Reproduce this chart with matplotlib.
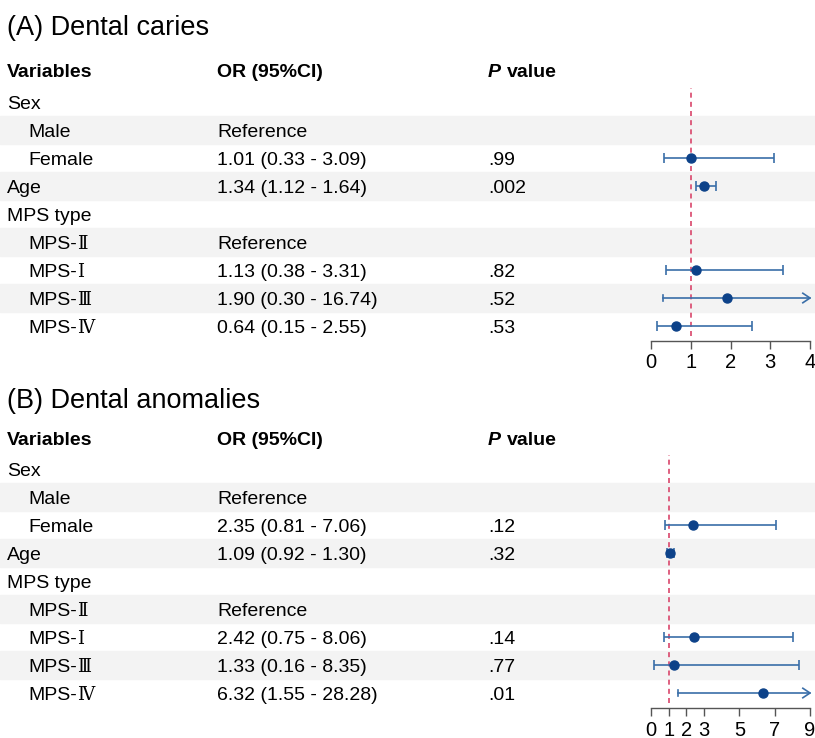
import matplotlib
matplotlib.use("Agg")
import matplotlib.pyplot as plt

plt.rcParams['font.family'] = ['Liberation Sans', 'DejaVu Sans', 'Noto Sans CJK SC']

# ---------------- data ----------------
row_labels = ["Sex", "Male", "Female", "Age", "MPS type", "MPS-Ⅱ", "MPS-Ⅰ", "MPS-Ⅲ", "MPS-Ⅳ"]
row_indent = [False, True, True, False, False, True, True, True, True]

a_title = "(A) Dental caries"
a_or_text = ["", "Reference", "1.01 (0.33 - 3.09)", "1.34 (1.12 - 1.64)", "", "Reference",
             "1.13 (0.38 - 3.31)", "1.90 (0.30 - 16.74)", "0.64 (0.15 - 2.55)"]
a_p_text = ["", "", ".99", ".002", "", "", ".82", ".52", ".53"]
a_or = [None, None, 1.01, 1.34, None, None, 1.13, 1.90, 0.64]
a_lo = [None, None, 0.33, 1.12, None, None, 0.38, 0.30, 0.15]
a_hi = [None, None, 3.09, 1.64, None, None, 3.31, 16.74, 2.55]
a_xmax = 4
a_ticks = [0, 1, 2, 3, 4]

b_title = "(B) Dental anomalies"
b_or_text = ["", "Reference", "2.35 (0.81 - 7.06)", "1.09 (0.92 - 1.30)", "", "Reference",
             "2.42 (0.75 - 8.06)", "1.33 (0.16 - 8.35)", "6.32 (1.55 - 28.28)"]
b_p_text = ["", "", ".12", ".32", "", "", ".14", ".77", ".01"]
b_or = [None, None, 2.35, 1.09, None, None, 2.42, 1.33, 6.32]
b_lo = [None, None, 0.81, 0.92, None, None, 0.75, 0.16, 1.55]
b_hi = [None, None, 7.06, 1.30, None, None, 8.06, 8.35, 28.28]
b_xmax = 9
b_ticks = [0, 1, 2, 3, 5, 7, 9]

shaded_rows = [1, 3, 5, 7]

# ---------------- layout ----------------
W, H = 815, 738
fig = plt.figure(figsize=(W / 100, H / 100), dpi=100)
bg = fig.add_axes([0, 0, 1, 1])
bg.set_xlim(0, W)
bg.set_ylim(H, 0)
bg.axis('off')

ROW_H = 28
FS = 14
LINE_C = '#3a6ea8'
DOT_C = '#0d4289'
REF_C = '#d9456b'
PX0, PX1 = 651, 810
BL = 7  # baseline offset from row centre (px)
COL_OR = 217
COL_P = 488
ROMAN_FAMILY = ['DejaVu Serif', 'Liberation Serif', 'DejaVu Sans']

renderer = fig.canvas.get_renderer()


def label(x, y, s):
    # "MPS-" prefix in sans, roman numeral in a serif face (as in the reference)
    if s.startswith("MPS-"):
        t = bg.text(x, y, "MPS-", fontsize=FS, va='baseline')
        w = t.get_window_extent(renderer=renderer).width
        bg.text(x + w, y, s[4:], fontsize=FS * 0.92, va='baseline', family=ROMAN_FAMILY)
    else:
        bg.text(x, y, s, fontsize=FS, va='baseline')


def panel(title, title_base, head_y, row0_y, or_text, p_text, ors, los, his, xmax, ticks, axis_y):
    bg.text(7, title_base, title, fontsize=19.5, va='baseline', ha='left')
    bg.text(7, head_y + BL, "Variables", fontsize=FS, fontweight='bold', va='baseline')
    bg.text(COL_OR, head_y + BL, "OR (95%CI)", fontsize=FS, fontweight='bold', va='baseline')
    bg.text(COL_P, head_y + BL, "P", fontsize=FS, fontweight='bold', style='italic', va='baseline')
    bg.text(COL_P + 19, head_y + BL, "value", fontsize=FS, fontweight='bold', va='baseline')
    for i, lab in enumerate(row_labels):
        y = row0_y + i * ROW_H
        if i in shaded_rows:
            bg.axhspan(y - ROW_H / 2, y + ROW_H / 2, color='#f3f3f3', zorder=0)
        label(28 if row_indent[i] else 7, y + BL, lab)
        bg.text(COL_OR, y + BL, or_text[i], fontsize=FS, va='baseline')
        bg.text(COL_P, y + BL, p_text[i], fontsize=FS, va='baseline')

    top = row0_y - 0.5 * ROW_H
    n = len(row_labels)
    ylo = (axis_y - row0_y) / ROW_H
    yhi = (top - row0_y) / ROW_H
    ax = fig.add_axes([PX0 / W, 1 - axis_y / H, (PX1 - PX0) / W, (axis_y - top) / H])
    ax.patch.set_alpha(0)
    ax.set_xlim(0, xmax)
    ax.set_ylim(ylo, yhi)
    for s in ['top', 'right', 'left']:
        ax.spines[s].set_visible(False)
    ax.spines['bottom'].set_color('#555555')
    ax.spines['bottom'].set_linewidth(1.0)
    ax.set_yticks([])
    ax.set_xticks(ticks)
    ax.tick_params(axis='x', length=6, width=1.0, color='#555555', labelsize=14.5, pad=3)
    ax.axvline(1, ymin=0.02, ymax=1, color=REF_C, ls=(0, (3, 2.5)), lw=1.2, zorder=1)
    for i in range(n):
        if ors[i] is None:
            continue
        lo, hi = los[i], his[i]
        if hi > xmax:
            ax.plot([lo, xmax], [i, i], color=LINE_C, lw=1.2, zorder=2, clip_on=False)
            ax.plot([lo, lo], [i - 0.12, i + 0.12], color=LINE_C, lw=1.2, zorder=2)
            ax.plot([xmax - xmax * 0.045, xmax, xmax - xmax * 0.045], [i - 0.17, i, i + 0.17],
                    color=LINE_C, lw=1.2, zorder=2, clip_on=False)
        else:
            ax.errorbar([ors[i]], [i], xerr=[[ors[i] - lo], [hi - ors[i]]], fmt='none',
                        ecolor=LINE_C, elinewidth=1.2, capsize=3.5, capthick=1.2, zorder=2)
        ax.plot([ors[i]], [i], 'o', color=DOT_C, ms=6.5, zorder=3, clip_on=False)


panel(a_title, 35, 70, 102, a_or_text, a_p_text, a_or, a_lo, a_hi, a_xmax, a_ticks, 341)
panel(b_title, 408, 438, 469, b_or_text, b_p_text, b_or, b_lo, b_hi, b_xmax, b_ticks, 708)

fig.savefig("out.png", dpi=100)
